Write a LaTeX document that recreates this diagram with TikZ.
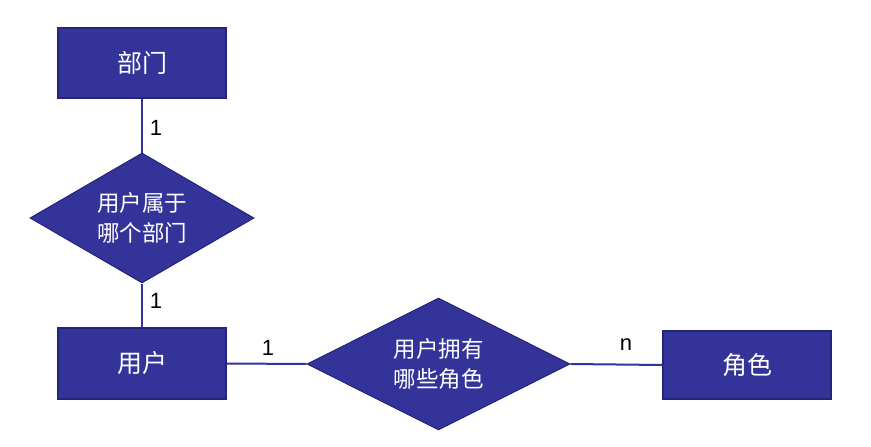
\documentclass[tikz,border=0pt]{standalone}
\usepackage{fontspec}
\setmainfont{Liberation Sans}
\newfontfamily\cjk{Noto Sans CJK SC}
\usetikzlibrary{shapes.geometric}
\definecolor{erfill}{HTML}{333399}
\definecolor{erdraw}{HTML}{24247A}
\tikzset{
  entity/.style={rectangle, fill=erfill, draw=erdraw, line width=1.5pt, inner sep=0pt,
    minimum width=168pt, minimum height=70pt, text=white, font=\cjk\fontsize{25}{29}\selectfont},
  relation/.style={diamond, fill=erfill, draw=erdraw, line width=1pt, inner sep=0pt,
    text=white, align=center, font=\cjk\fontsize{22.5}{30}\selectfont},
  conn/.style={draw=erfill, line width=2pt},
  card/.style={font=\fontsize{22}{26}\selectfont, text=black, inner sep=0pt}
}
\begin{document}
\begin{tikzpicture}[x=1pt,y=-1pt]
\useasboundingbox (0,0) rectangle (871,447);
\node[entity] (dept) at (142,63) {部门};
\node[relation, minimum width=224pt, minimum height=130pt, aspect=1.72] (belong) at (142,218) {用户属于\\哪个部门};
\node[entity, minimum height=71pt] (user) at (142,363.5) {用户};
\node[relation, minimum width=263pt, minimum height=132pt, aspect=1.99] (own) at (438.5,364) {用户拥有\\哪些角色};
\node[entity, minimum height=68pt] (role) at (747,365) {角色};
\draw[conn] (dept.south) -- (belong.north);
\draw[conn] (belong.south) -- (user.north);
\draw[conn] (user.east) -- (own.west);
\draw[conn] (own.east) -- (role.west);
\node[card] (c1) at (156,128) {1};
\node[card] (c2) at (156,301) {1};
\node[card] (c3) at (268,348) {1};
\node[card] (c4) at (626,345) {n};
\end{tikzpicture}
\end{document}
